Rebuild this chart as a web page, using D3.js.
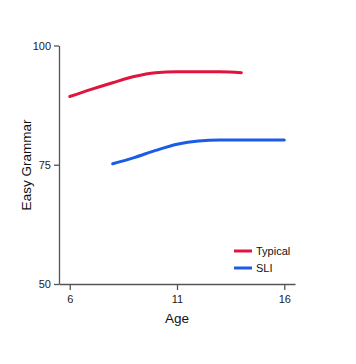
<!DOCTYPE html>
<html><head><meta charset="utf-8">
<script src="https://cdn.jsdelivr.net/npm/d3@7"></script>
<style>body{margin:0;background:#fff}svg{display:block}text{font-family:"Liberation Sans",Arial,sans-serif}</style>
</head><body><div id="c"></div>
<script>
const typicalAges = [6,7,8,9,10,11,12,13,14];
const typicalValues = [89.3,90.8,92.2,93.5,94.3,94.5,94.5,94.5,94.3];
const sliAges = [8,9,10,11,12,13,14,15,16];
const sliValues = [75.2,76.5,78.0,79.3,80.0,80.2,80.2,80.2,80.2];
const xTicks = [6,11,16];
const yTicks = [50,75,100];
const seriesNames = ["Typical","SLI"];
const seriesColors = ["#e0143c","#1a5ce6"];

const W=356,H=364;
const svg=d3.select("#c").append("svg").attr("width",W).attr("height",H);
const x=d3.scaleLinear().domain([5.5,16.5]).range([59,295]);
const y=d3.scaleLinear().domain([50,100]).range([284,45.5]);

const xa=svg.append("g").attr("transform","translate(0,284)")
  .call(d3.axisBottom(x).tickValues(xTicks).tickSize(6).tickPadding(5).tickSizeOuter(0));
const ya=svg.append("g").attr("transform","translate(59,0)")
  .call(d3.axisLeft(y).tickValues(yTicks).tickSize(5).tickPadding(3).tickSizeOuter(0));
[xa,ya].forEach(a=>{a.selectAll("path,line").attr("stroke","#555").attr("stroke-width",1.3);
  a.selectAll("text").attr("fill","#222").style("font-size","11px");});

svg.append("text").attr("x",177).attr("y",323).attr("text-anchor","middle")
  .style("font-size","13.5px").attr("fill","#111").text("Age");
svg.append("text").attr("transform","translate(31,165) rotate(-90)").attr("text-anchor","middle")
  .style("font-size","13.5px").attr("fill","#111").text("Easy Grammar");

const line=d3.line().x(d=>x(d[0])).y(d=>y(d[1])).curve(d3.curveMonotoneX);
const data=[d3.zip(typicalAges,typicalValues),d3.zip(sliAges,sliValues)];
data.forEach((d,i)=>svg.append("path").datum(d).attr("d",line).attr("fill","none")
  .attr("stroke",seriesColors[i]).attr("stroke-width",3).attr("stroke-linecap","round"));

seriesNames.forEach((n,i)=>{
  const yy=251+i*17;
  svg.append("line").attr("x1",234).attr("x2",252).attr("y1",yy).attr("y2",yy)
    .attr("stroke",seriesColors[i]).attr("stroke-width",3);
  svg.append("text").attr("x",256).attr("y",yy+4).style("font-size","11px").attr("fill","#111").text(n);
});
</script></body></html>
